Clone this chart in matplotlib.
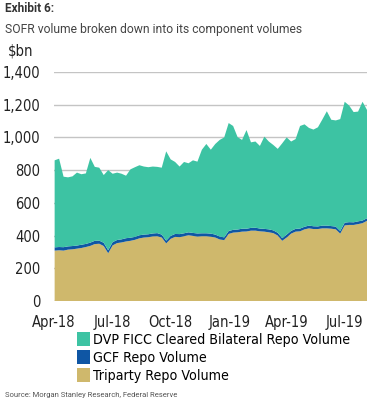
import numpy as np
import pandas as pd
import matplotlib
matplotlib.use('Agg')
import matplotlib.pyplot as plt
import matplotlib.dates as mdates
from matplotlib.patches import Patch
from matplotlib.ticker import FuncFormatter
from matplotlib import font_manager

# weekly observations, $bn
dates = pd.date_range('2018-04-02', periods=71, freq='7D')

triparty = [308, 310, 308, 314, 316, 320, 324, 330, 337, 348,
            350, 336, 292, 340, 354, 358, 364, 368, 374, 383,
            388, 390, 395, 396, 388, 352, 380, 392, 390, 396,
            402, 398, 394, 396, 396, 393, 388, 376, 372, 410,
            418, 420, 424, 425, 430, 430, 426, 424, 420, 415,
            400, 368, 388, 412, 424, 426, 438, 444, 440, 440,
            444, 444, 442, 438, 412, 462, 465, 465, 470, 476,
            490]

gcf = [20, 20, 21, 20, 20, 19, 20, 19, 20, 20,
       19, 20, 18, 20, 19, 19, 20, 19, 18, 19,
       18, 18, 18, 19, 18, 17, 18, 18, 19, 18,
       18, 18, 19, 18, 18, 19, 18, 18, 17, 18,
       17, 17, 18, 17, 17, 18, 17, 17, 18, 17,
       17, 16, 18, 17, 17, 17, 16, 17, 17, 16,
       17, 17, 16, 17, 16, 17, 17, 16, 17, 16,
       16]

dvp = [532, 540, 431, 422, 426, 446, 431, 431, 518, 452,
       446, 414, 490, 418, 412, 401, 382, 418, 426, 428,
       416, 410, 409, 405, 409, 546, 468, 440, 413, 436,
       422, 444, 439, 511, 546, 513, 554, 591, 611, 660,
       635, 565, 543, 603, 523, 527, 505, 564, 537, 522,
       513, 580, 594, 546, 549, 627, 626, 597, 591, 606,
       649, 699, 650, 649, 684, 739, 713, 674, 671, 726,
       662]

labels = ['DVP FICC Cleared Bilateral Repo Volume', 'GCF Repo Volume', 'Triparty Repo Volume']
colors = ['#3DC3A3', '#0F56A4', '#CFB86C']

cond = font_manager.FontProperties(family='DejaVu Sans', stretch='condensed', size=10.5)
cond_leg = font_manager.FontProperties(family='DejaVu Sans', stretch='condensed', size=10.2)

fig = plt.figure(figsize=(3.84, 4.03), dpi=100)
ax = fig.add_axes([54/384, 1 - 301/403, 313/384, 229/403])

ax.stackplot(dates, triparty, gcf, dvp, colors=[colors[2], colors[1], colors[0]],
             linewidth=0, zorder=2)

ax.set_ylim(0, 1400)
ax.set_yticks(np.arange(0, 1401, 200))
ax.yaxis.set_major_formatter(FuncFormatter(lambda v, p: f'{int(v):,}'))
ax.grid(axis='y', color='#C4C4C4', linewidth=1, zorder=1)
ax.set_axisbelow(True)
ax.set_xlim(dates[0], dates[-1])
ax.set_xticks(pd.to_datetime(['2018-04-01', '2018-07-01', '2018-10-01',
                              '2019-01-01', '2019-04-01', '2019-07-01']))
ax.xaxis.set_major_formatter(mdates.DateFormatter('%b-%y'))
for s in ax.spines.values():
    s.set_visible(False)
ax.tick_params(axis='x', length=0, pad=10)
ax.tick_params(axis='y', length=0, pad=10)
for t in ax.get_xticklabels() + ax.get_yticklabels():
    t.set_fontproperties(cond)
    t.set_color('#222222')

fig.text(5/384, 1 - 8/403, 'Exhibit 6:', fontsize=8.5, fontweight='bold',
         color='#333333', va='center', family=['Roboto', 'DejaVu Sans'])
fig.text(5/384, 1 - 30/403, 'SOFR volume broken down into its component volumes',
         fontsize=8.7, color='#444444', va='center', family=['Roboto', 'DejaVu Sans'])
fig.text(8/384, 1 - 51/403, '$bn', color='#222222', va='center', fontproperties=cond)

handles = [Patch(facecolor=c, edgecolor='none') for c in colors]
fig.legend(handles, labels, loc='upper left', bbox_to_anchor=(77/384, 1 - 332/403),
           frameon=False, prop=cond_leg, handlelength=0.95,
           handleheight=1.1, handletextpad=0.15, labelspacing=0.25,
           borderaxespad=0, borderpad=0)

fig.text(5/384, 1 - 395/403, 'Source: Morgan Stanley Research, Federal Reserve',
         fontsize=5.5, color='#555555', va='center', family=['Roboto', 'DejaVu Sans'])

fig.savefig('out.png', dpi=100)
